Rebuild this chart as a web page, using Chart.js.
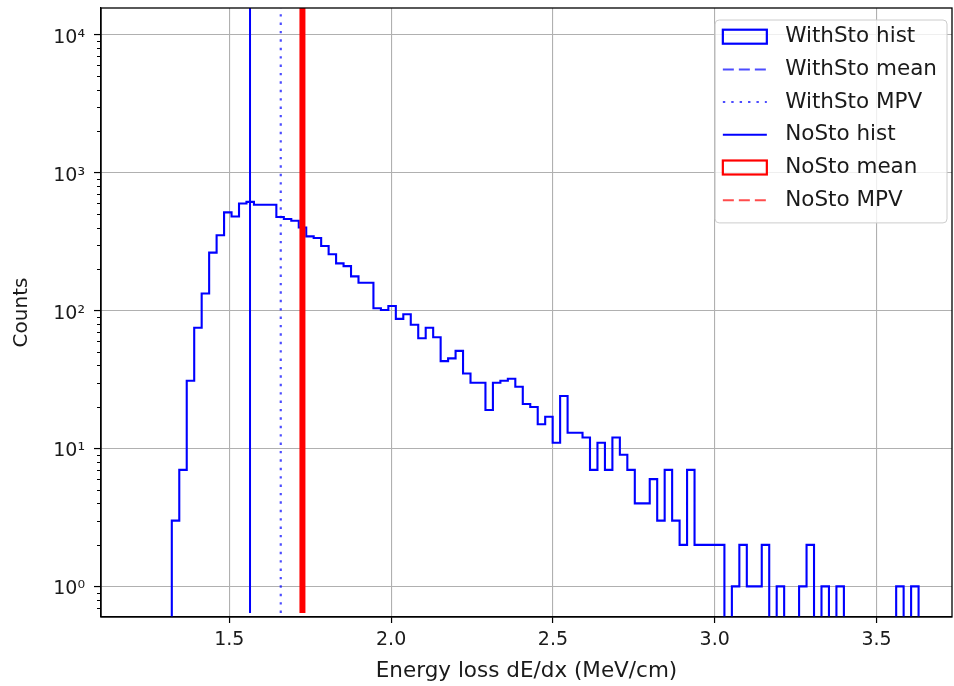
<!DOCTYPE html>
<html>
<head>
<meta charset="utf-8">
<script src="https://cdn.jsdelivr.net/npm/chart.js@4.4.1/dist/chart.umd.min.js"></script>
<style>
  html, body { margin: 0; padding: 0; background: #fff; }
  #wrap { width: 954px; height: 686px; }
</style>
</head>
<body>
<div id="wrap"><canvas id="chart" width="954" height="686"></canvas></div>
<script>
// dE/dx histogram: 100 bins between the lowest and the highest entry
const binRange = [1.3223, 3.6300];
const histCounts = [
  3, 7, 31, 75, 133, 263, 352, 515, 481, 597,
  614, 585, 585, 585, 477, 461, 448, 400, 345, 336,
  294, 256, 220, 210, 177, 159, 159, 104, 101, 108,
  87, 94, 79, 63, 75, 64, 43, 45, 51, 35,
  30, 30, 19, 30, 31, 32, 28, 21, 20, 15,
  17, 11, 24, 13, 13, 12, 7, 11, 7, 12,
  9, 7, 4, 4, 6, 3, 7, 3, 2, 7,
  2, 2, 2, 2, 0, 1, 2, 1, 1, 2,
  0, 1, 0, 0, 1, 2, 0, 1, 0, 1,
  0, 0, 0, 0, 0, 0, 0, 1, 0, 1
];

// vertical marker lines (MeV/cm), in legend order
const markerLabels = ['WithSto mean', 'WithSto MPV', 'NoSto hist', 'NoSto mean', 'NoSto MPV'];
const markerValues = [1.726, 1.659, 1.564, 1.726, 1.726];

// axes
const xRange = [1.1035, 3.7333];
const yRange = [0.642, 15630];
const xTicks = [1.5, 2.0, 2.5, 3.0, 3.5];
const yTicks = [1, 10, 100, 1000, 10000];

const FONT = '"DejaVu Sans", "Liberation Sans", sans-serif';
const TEXT = '#1a1a1a';

// look of each marker line (legend: 'line' sample or 'patch' box)
const markerStyles = {
  'WithSto mean': { color: 'rgba(0,0,255,0.7)', width: 2, dash: [11, 5], legend: 'line' },
  'WithSto MPV': { color: 'rgba(0,0,255,0.7)', width: 2.2, dash: [2.4, 6], legend: 'line' },
  'NoSto hist': { color: '#0000ff', width: 2, dash: [], legend: 'line' },
  'NoSto mean': { color: '#ff0000', width: 6, dash: [], legend: 'patch' },
  'NoSto MPV': { color: 'rgba(255,0,0,0.7)', width: 2, dash: [11, 5], legend: 'line' }
};

// step outline of the histogram; empty bins drop below the log axis
const nBins = histCounts.length;
const binWidth = (binRange[1] - binRange[0]) / nBins;
const edge = (k) => binRange[0] + k * binWidth;
const logFloor = 1e-3;
const shown = (c) => (c > 0 ? c : logFloor);
const histPoints = [{ x: edge(0), y: logFloor }];
histCounts.forEach((c, k) => histPoints.push({ x: edge(k), y: shown(c) }));
histPoints.push({ x: edge(nBins), y: shown(histCounts[nBins - 1]) });
histPoints.push({ x: edge(nBins), y: logFloor });

const datasets = [{
  label: 'WithSto hist',
  data: histPoints,
  borderColor: '#0000ff',
  borderWidth: 2.1,
  borderJoinStyle: 'miter',
  stepped: 'before',
  pointRadius: 0,
  fill: false,
  order: 10,
  legendKind: 'patch'
}];

markerLabels.forEach((label, i) => {
  const s = markerStyles[label];
  datasets.push({
    label: label,
    data: [{ x: markerValues[i], y: yRange[0] }, { x: markerValues[i], y: yRange[1] }],
    borderColor: s.color,
    borderWidth: s.width,
    borderDash: s.dash,
    pointRadius: 0,
    fill: false,
    order: 5 - i,
    legendKind: s.legend
  });
});

const supDigits = { '0': '\u2070', '1': '\u00b9', '2': '\u00b2', '3': '\u00b3', '4': '\u2074' };

// spines, minor log ticks and a matplotlib-like legend inside the axes
const framePlugin = {
  id: 'frame',
  afterDraw(chart) {
    const { ctx, chartArea: a } = chart;
    const yScale = chart.scales.y;
    ctx.save();

    // minor ticks on the log axis
    ctx.strokeStyle = '#000';
    ctx.lineWidth = 1;
    for (let e = -1; e <= 4; e++) {
      for (let m = 2; m <= 9; m++) {
        const v = m * Math.pow(10, e);
        if (v < yRange[0] || v > yRange[1]) continue;
        const py = Math.round(yScale.getPixelForValue(v)) + 0.5;
        ctx.beginPath();
        ctx.moveTo(a.left - 4, py);
        ctx.lineTo(a.left, py);
        ctx.stroke();
      }
    }

    // four spines
    ctx.lineWidth = 1.3;
    ctx.strokeRect(a.left, a.top, a.right - a.left, a.bottom - a.top);

    // legend
    ctx.font = '21.5px ' + FONT;
    const dsList = chart.data.datasets;
    const textW = Math.max(...dsList.map((d) => ctx.measureText(d.label).width));
    const boxW = 70 + textW + 10;
    const rowH = 32.7;
    const boxH = rowH * (dsList.length - 1) + 2 * 16.7 + 6;
    const bx = a.right - 5 - boxW;
    const by = a.top + 12;
    ctx.beginPath();
    ctx.roundRect(bx, by, boxW, boxH, 4);
    ctx.fillStyle = 'rgba(255,255,255,0.8)';
    ctx.fill();
    ctx.strokeStyle = '#cccccc';
    ctx.lineWidth = 1;
    ctx.stroke();

    dsList.forEach((d, i) => {
      const cy = by + 16.7 + i * rowH;
      const hx = bx + 7.7;
      const hw = 44;
      ctx.setLineDash([]);
      ctx.strokeStyle = d.borderColor;
      if (d.legendKind === 'patch') {
        ctx.lineWidth = 2.2;
        ctx.strokeRect(hx, cy - 7, hw, 14);
      } else {
        ctx.lineWidth = Math.min(d.borderWidth, 2);
        ctx.setLineDash(d.borderDash || []);
        ctx.beginPath();
        ctx.moveTo(hx, cy);
        ctx.lineTo(hx + hw, cy);
        ctx.stroke();
      }
      ctx.setLineDash([]);
      ctx.fillStyle = TEXT;
      ctx.textBaseline = 'middle';
      ctx.textAlign = 'left';
      ctx.fillText(d.label, bx + 70, cy);
    });
    ctx.restore();
  }
};

new Chart(document.getElementById('chart'), {
  type: 'line',
  data: { datasets: datasets },
  options: {
    responsive: false,
    animation: false,
    layout: { padding: { top: 8, right: 2, left: 0, bottom: 0 } },
    plugins: {
      legend: { display: false },
      tooltip: { enabled: false }
    },
    scales: {
      x: {
        type: 'linear',
        min: xRange[0],
        max: xRange[1],
        afterBuildTicks: (scale) => { scale.ticks = xTicks.map((v) => ({ value: v })); },
        afterFit: (scale) => {
          scale.height = 69;
          scale.paddingLeft = 0;
          scale.paddingRight = 0;
        },
        grid: { color: '#b0b0b0', lineWidth: 1.1, tickColor: '#000', tickLength: 6, tickWidth: 1.2 },
        border: { color: '#000', width: 1.3 },
        ticks: {
          color: TEXT,
          font: { family: FONT, size: 19 },
          padding: 6,
          maxRotation: 0,
          callback: (v) => Number(v).toFixed(1)
        },
        title: {
          display: true,
          text: 'Energy loss dE/dx (MeV/cm)',
          color: TEXT,
          font: { family: FONT, size: 21.5 },
          padding: { top: 0, bottom: 2 }
        }
      },
      y: {
        type: 'logarithmic',
        min: yRange[0],
        max: yRange[1],
        afterBuildTicks: (scale) => { scale.ticks = yTicks.map((v) => ({ value: v })); },
        afterFit: (scale) => {
          scale.width = 101;
          scale.paddingTop = 0;
          scale.paddingBottom = 0;
        },
        grid: { color: '#b0b0b0', lineWidth: 1.1, tickColor: '#000', tickLength: 7, tickWidth: 1.2 },
        border: { color: '#000', width: 1.3 },
        ticks: {
          color: TEXT,
          font: { family: FONT, size: 19 },
          padding: 9,
          labelOffset: 3,
          callback: (v) => '10' + supDigits[String(Math.round(Math.log10(v)))]
        },
        title: {
          display: true,
          text: 'Counts',
          color: TEXT,
          font: { family: FONT, size: 20 },
          padding: { top: 10, bottom: 0 }
        }
      }
    }
  },
  plugins: [framePlugin]
});
</script>
</body>
</html>
